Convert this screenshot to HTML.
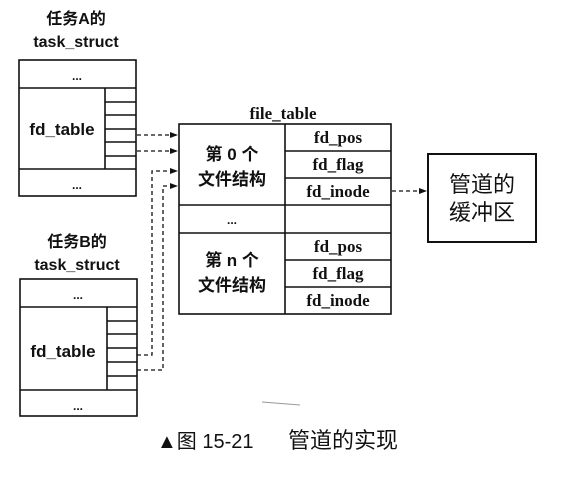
<!DOCTYPE html>
<html><head><meta charset="utf-8"><style>
body{margin:0;background:#fff;}
svg text{font-family:"Liberation Sans","Noto Sans CJK SC",sans-serif;fill:#111;}
.s{font-family:"Liberation Serif","Noto Serif CJK SC",serif !important;font-weight:bold;}
</style></head><body>
<svg width="562" height="475" viewBox="0 0 562 475" xmlns="http://www.w3.org/2000/svg">
<defs><marker id="a" markerWidth="8" markerHeight="8" refX="7" refY="4" orient="auto" markerUnits="userSpaceOnUse"><path d="M0,1 L8,4 L0,7z" fill="#111"/></marker></defs>
<g stroke="#111" stroke-width="1.6" fill="none">
<rect x="19" y="60" width="117" height="136"/>
<line x1="19" y1="88" x2="136" y2="88"/><line x1="19" y1="169" x2="136" y2="169"/>
<line x1="105" y1="88" x2="105" y2="169"/>
<line x1="105" y1="102" x2="136" y2="102"/><line x1="105" y1="115" x2="136" y2="115"/><line x1="105" y1="129" x2="136" y2="129"/><line x1="105" y1="142" x2="136" y2="142"/><line x1="105" y1="156" x2="136" y2="156"/>
<rect x="20" y="279" width="117" height="137"/>
<line x1="20" y1="307" x2="137" y2="307"/><line x1="20" y1="390" x2="137" y2="390"/>
<line x1="107" y1="307" x2="107" y2="390"/>
<line x1="107" y1="321" x2="137" y2="321"/><line x1="107" y1="334" x2="137" y2="334"/><line x1="107" y1="348" x2="137" y2="348"/><line x1="107" y1="362" x2="137" y2="362"/><line x1="107" y1="376" x2="137" y2="376"/>
<rect x="179" y="124" width="212" height="190"/>
<line x1="285" y1="124" x2="285" y2="314"/>
<line x1="285" y1="151" x2="391" y2="151"/><line x1="285" y1="178" x2="391" y2="178"/>
<line x1="179" y1="205" x2="391" y2="205"/><line x1="179" y1="233" x2="391" y2="233"/>
<line x1="285" y1="260" x2="391" y2="260"/><line x1="285" y1="287" x2="391" y2="287"/>
<rect x="428" y="154" width="108" height="88" stroke-width="2"/>
</g>
<g stroke="#111" stroke-width="1.3" fill="none" stroke-dasharray="4,3">
<line x1="137" y1="135" x2="177" y2="135" marker-end="url(#a)"/>
<line x1="137" y1="151" x2="177" y2="151" marker-end="url(#a)"/>
<polyline points="137,355 152,355 152,171 177,171" marker-end="url(#a)"/>
<polyline points="137,370 163,370 163,186 177,186" marker-end="url(#a)"/>
<line x1="392" y1="191" x2="426" y2="191" marker-end="url(#a)"/>
</g>
<g text-anchor="middle" font-weight="bold">
<text x="76" y="24" font-size="16">任务A的</text>
<text x="76" y="47" font-size="16">task_struct</text>
<text x="77" y="80" font-size="12">...</text>
<text x="62" y="135" font-size="17">fd_table</text>
<text x="77" y="189" font-size="12">...</text>
<text x="77" y="247" font-size="16">任务B的</text>
<text x="77" y="270" font-size="16">task_struct</text>
<text x="78" y="299" font-size="12">...</text>
<text x="63" y="357" font-size="17">fd_table</text>
<text x="78" y="410" font-size="12">...</text>
<text class="s" x="283" y="119" font-size="17">file_table</text>
<text x="232" y="160" font-size="17">第 0 个</text>
<text x="232" y="185" font-size="17">文件结构</text>
<text x="232" y="224" font-size="12">...</text>
<text x="232" y="266" font-size="17">第 n 个</text>
<text x="232" y="291" font-size="17">文件结构</text>
<text class="s" x="338" y="143" font-size="17">fd_pos</text>
<text class="s" x="338" y="170" font-size="17">fd_flag</text>
<text class="s" x="338" y="197" font-size="17">fd_inode</text>
<text class="s" x="338" y="252" font-size="17">fd_pos</text>
<text class="s" x="338" y="279" font-size="17">fd_flag</text>
<text class="s" x="338" y="306" font-size="17">fd_inode</text>
<text x="482" y="192" font-size="22" font-weight="normal">管道的</text>
<text x="482" y="220" font-size="22" font-weight="normal">缓冲区</text>
</g>
<line x1="262" y1="402" x2="300" y2="405" stroke="#999" stroke-width="1"/>
<text x="157" y="448" font-size="20">▲图 15-21</text>
<text x="288" y="448" font-size="22">管道的实现</text>
</svg>
</body></html>
